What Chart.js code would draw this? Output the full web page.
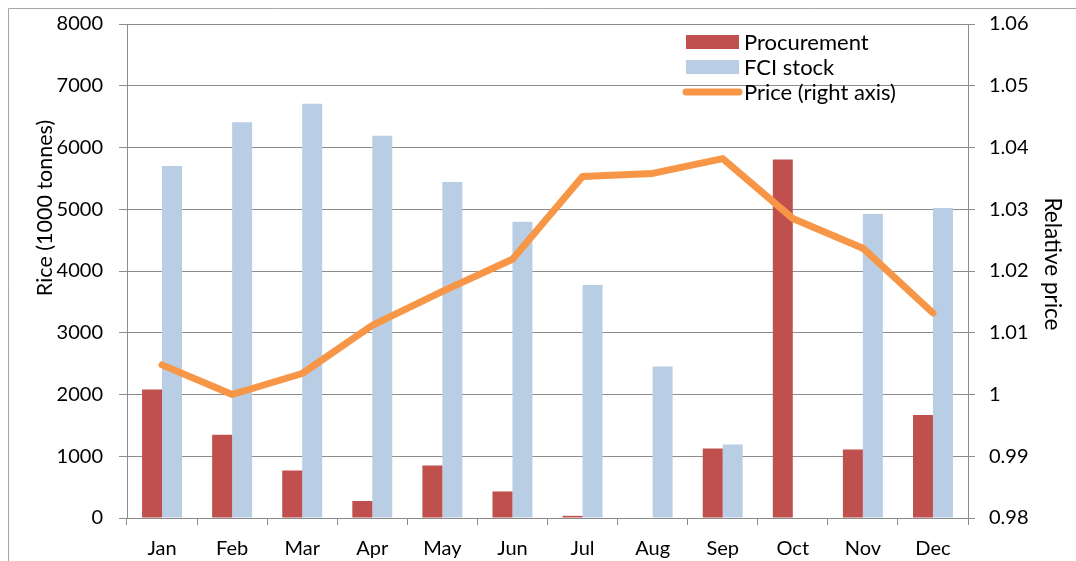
<!DOCTYPE html>
<html>
<head>
<meta charset="utf-8">
<script src="https://cdn.jsdelivr.net/npm/chart.js@4/dist/chart.umd.min.js"></script>
<style>
  html, body { margin: 0; padding: 0; background: #fff; }
  #wrap { width: 1076px; height: 561px; position: relative; }
</style>
</head>
<body>
<div id="wrap"><canvas id="chart" width="1076" height="561"></canvas></div>
<script>
const months = ["Jan", "Feb", "Mar", "Apr", "May", "Jun", "Jul", "Aug", "Sep", "Oct", "Nov", "Dec"];
const procurement = [2080, 1350, 770, 275, 850, 430, 35, 0, 1125, 5805, 1110, 1668];
const fciStock = [5700, 6410, 6710, 6190, 5440, 4798, 3773, 2455, 1192, 0, 4923, 5022];
const price = [1.0048, 1.0, 1.0034, 1.0112, 1.0167, 1.0219, 1.0353, 1.0358, 1.0382, 1.0285, 1.0237, 1.0132];
const leftTicks = [0, 8000, 1000];
const rightTicks = [0.98, 1.06, 0.01];
const leftTitle = "Rice (1000 tonnes)";
const rightTitle = "Relative price";

const FONT = "Lato";
const GRID = "#8c8c8c";

// outer frame of the chart object (only top and left edges are visible)
const framePlugin = {
  id: "frame",
  beforeDraw(chart) {
    const ctx = chart.ctx;
    ctx.save();
    ctx.fillStyle = "#fff";
    ctx.fillRect(0, 0, chart.width, chart.height);
    ctx.strokeStyle = "#a6a6a6";
    ctx.lineWidth = 1;
    ctx.beginPath();
    ctx.moveTo(8.5, chart.height);
    ctx.lineTo(8.5, 8.5);
    ctx.lineTo(chart.width, 8.5);
    ctx.stroke();
    ctx.restore();
  }
};

// axis titles, placed like the Excel original (left one sits above centre)
function drawRotated(ctx, text, x, y, angle, size) {
  ctx.save();
  ctx.font = size + "px " + FONT;
  ctx.fillStyle = "#000";
  ctx.textAlign = "center";
  ctx.textBaseline = "middle";
  ctx.translate(x, y);
  ctx.rotate(angle);
  ctx.fillText(text, 0, 0);
  ctx.restore();
}

const titlePlugin = {
  id: "axisTitles",
  afterDraw(chart) {
    drawRotated(chart.ctx, leftTitle, 45, 208, -Math.PI / 2, 21.5);
    drawRotated(chart.ctx, rightTitle, 1052, 264, Math.PI / 2, 22.5);
  }
};

// legend sits inside the plot, top right
const legendPlugin = {
  id: "insideLegend",
  afterDraw(chart) {
    const ctx = chart.ctx;
    ctx.save();
    ctx.font = "22px " + FONT;
    ctx.textBaseline = "middle";
    chart.data.datasets.forEach((ds, i) => {
      const y = 42 + i * 25;
      if (ds.type === "line") {
        ctx.strokeStyle = ds.borderColor;
        ctx.lineWidth = 7;
        ctx.lineCap = "round";
        ctx.beginPath();
        ctx.moveTo(686, y);
        ctx.lineTo(739, y);
        ctx.stroke();
      } else {
        ctx.fillStyle = ds.backgroundColor;
        ctx.fillRect(686, y - 7, 53, 14);
      }
      ctx.fillStyle = "#000";
      ctx.fillText(ds.label, 744, y + 1);
    });
    ctx.restore();
  }
};

function fitSide(width) {
  return (s) => {
    s.width = width;
    s.paddingTop = 0;
    s.paddingBottom = 0;
  };
}

new Chart(document.getElementById("chart"), {
  data: {
    labels: months,
    datasets: [
      {
        type: "bar",
        label: "Procurement",
        data: procurement,
        backgroundColor: "#c0504d",
        yAxisID: "y",
        order: 1,
        barPercentage: 1,
        categoryPercentage: 0.57
      },
      {
        type: "bar",
        label: "FCI stock",
        data: fciStock,
        backgroundColor: "#b9cde5",
        yAxisID: "y",
        order: 1,
        barPercentage: 1,
        categoryPercentage: 0.57
      },
      {
        type: "line",
        label: "Price (right axis)",
        data: price,
        borderColor: "#f79646",
        backgroundColor: "#f79646",
        borderWidth: 7,
        pointRadius: 0,
        borderCapStyle: "round",
        borderJoinStyle: "round",
        tension: 0,
        yAxisID: "y1",
        order: 0
      }
    ]
  },
  options: {
    responsive: false,
    animation: false,
    layout: { padding: { top: 24, left: 0, right: 0, bottom: 0 } },
    plugins: {
      legend: { display: false },
      tooltip: { enabled: false }
    },
    scales: {
      x: {
        offset: true,
        grid: { offset: true, drawOnChartArea: false, tickLength: 7, color: GRID },
        border: { color: GRID },
        ticks: { color: "#000", font: { family: FONT, size: 20 }, padding: 12 },
        afterFit: (s) => { s.height = 43; }
      },
      y: {
        position: "left",
        min: leftTicks[0],
        max: leftTicks[1],
        ticks: {
          stepSize: leftTicks[2],
          color: "#000",
          font: { family: FONT, size: 20 },
          padding: 16,
          callback: (v) => String(v)
        },
        grid: { color: GRID, tickLength: 8 },
        border: { color: GRID },
        afterFit: fitSide(127)
      },
      y1: {
        position: "right",
        min: rightTicks[0],
        max: rightTicks[1],
        ticks: {
          stepSize: rightTicks[2],
          color: "#000",
          font: { family: FONT, size: 20 },
          padding: 14,
          callback: (v) => String(Number(v.toFixed(2)))
        },
        grid: { drawOnChartArea: false, color: GRID, tickLength: 7 },
        border: { color: GRID },
        afterFit: fitSide(108)
      }
    }
  },
  plugins: [framePlugin, titlePlugin, legendPlugin]
});
</script>
</body>
</html>
